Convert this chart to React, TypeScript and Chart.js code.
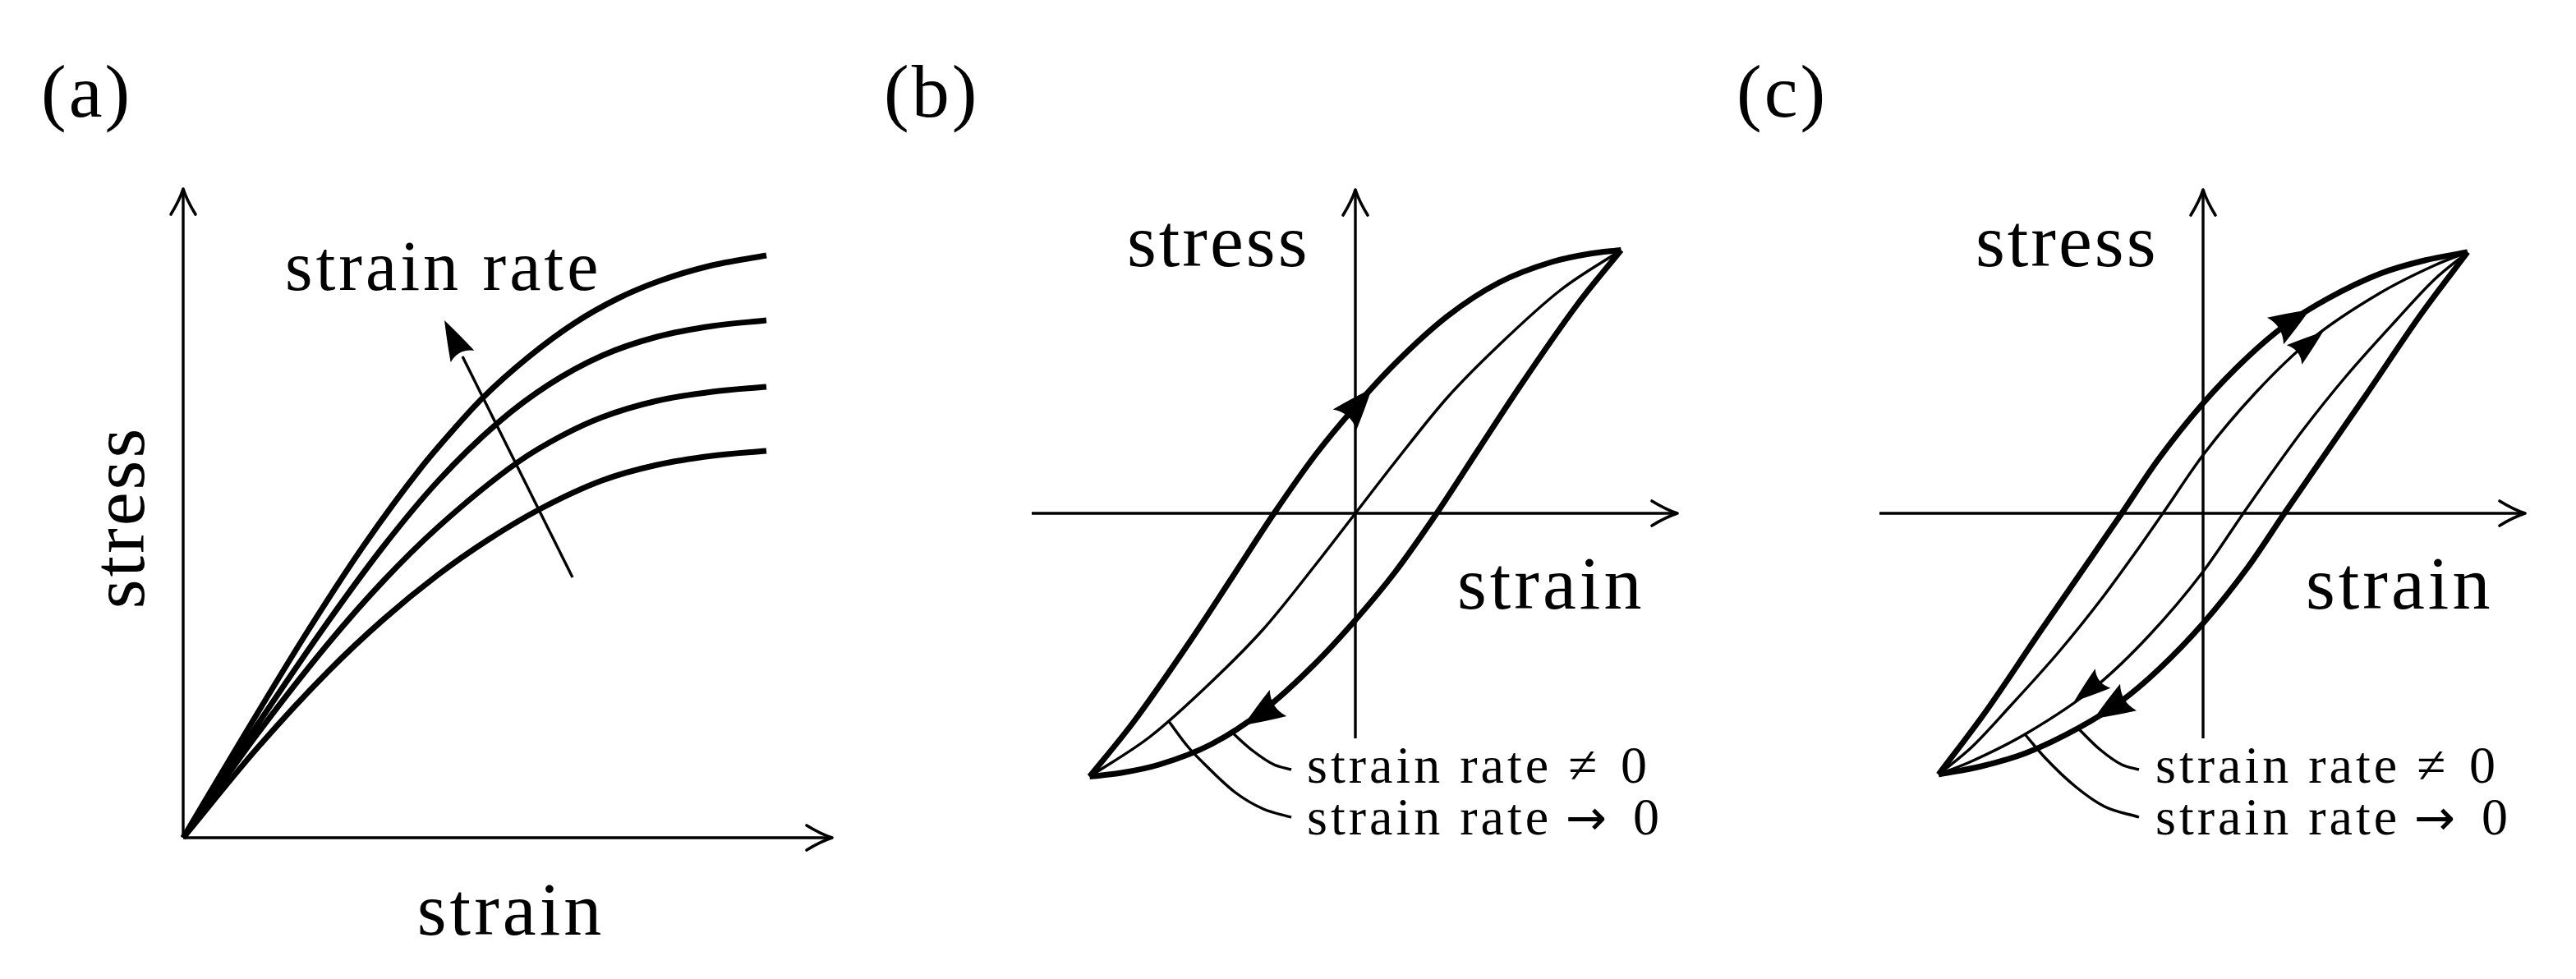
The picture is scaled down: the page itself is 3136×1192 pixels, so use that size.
import React, { useEffect, useRef } from "react";
import { Chart, registerables } from "chart.js";

Chart.register(...registerables);

type P = [number, number];

// ---------- text ----------
const panelLabels = ["(a)", "(b)", "(c)"];
const axisLabels = ["strain", "stress"];
const rateLabel = "strain rate";
const legendWords = ["strain rate", "strain rate"];
const legendSymbols = ["\u2260", "\u2192"];
const legendValues = ["0", "0"];

// ---------- panel (a): stress-strain curves for 4 strain rates ----------
const aAxisX: P[] = [[0, 0], [7.9, 0]];
const aAxisY: P[] = [[0, 0], [0, 7.9]];
const aCurve1: P[] = [[0, 0], [0.75, 1.26], [1.5, 2.49], [2.2, 3.56], [2.9, 4.51], [3.3, 4.98], [3.64, 5.35], [4.2, 5.85], [4.77, 6.27], [5.3, 6.57], [5.8, 6.78], [6.4, 6.96], [7.1, 7.09]];
const aCurve2: P[] = [[0, 0], [0.9, 1.37], [1.77, 2.64], [2.44, 3.55], [3.1, 4.34], [3.84, 5.06], [4.44, 5.51], [5.1, 5.87], [5.77, 6.1], [6.44, 6.23], [7.1, 6.3]];
const aCurve3: P[] = [[0, 0], [0.9, 1.26], [1.77, 2.37], [2.44, 3.13], [3.1, 3.78], [4.07, 4.57], [4.6, 4.89], [5.1, 5.12], [5.77, 5.32], [6.44, 5.43], [7.1, 5.49]];
const aCurve4: P[] = [[0, 0], [0.9, 1.09], [1.77, 2.03], [2.44, 2.66], [3.1, 3.2], [3.7, 3.62], [4.34, 4.0], [5.1, 4.35], [5.77, 4.54], [6.44, 4.65], [7.1, 4.71]];
const aRateShaft: P[] = [[3.4, 5.86], [4.74, 3.17]];
const aRateTip: P = [3.18, 6.3];

// ---------- panel (b): hysteresis loop ----------
const bAxisX: P[] = [[-3.94, 0], [3.92, 0]];
const bAxisY: P[] = [[0, -2.74], [0, 3.94]];
const bOuterUp: P[] = [[-3.235, -3.205], [-2.7, -2.54], [-2.0, -1.54], [-1.5, -0.78], [-0.99, 0], [-0.48, 0.72], [0, 1.3], [0.5, 1.84], [1.12, 2.4], [1.75, 2.81], [2.39, 3.06], [2.85, 3.16], [3.235, 3.205]];
const bOuterDown: P[] = [[-3.235, -3.205], [-2.85, -3.16], [-2.39, -3.06], [-1.75, -2.81], [-1.12, -2.4], [-0.5, -1.84], [0, -1.3], [0.48, -0.72], [0.99, 0], [1.5, 0.78], [2.0, 1.54], [2.7, 2.54], [3.235, 3.205]];
const bInner: P[] = [[-3.235, -3.205], [-2.5, -2.72], [-1.75, -2.05], [-1.12, -1.41], [-0.48, -0.62], [0, 0], [0.48, 0.62], [1.12, 1.41], [1.75, 2.05], [2.5, 2.72], [3.235, 3.205]];
const bLead1: P[] = [[-1.51, -2.66], [-1.25, -2.89], [-0.99, -3.06], [-0.78, -3.12]];
const bLead2: P[] = [[-2.28, -2.52], [-2.04, -2.84], [-1.85, -3.04], [-1.46, -3.4], [-1.12, -3.6], [-0.78, -3.7]];
const bHeadUp: P[] = [[0.2, 1.52], [-0.13, 1.14]];
const bHeadDown: P[] = [[-1.36, -2.58], [-0.94, -2.31]];

// ---------- panel (c): two hysteresis loops ----------
const cAxisX: P[] = [[-3.94, 0], [3.92, 0]];
const cAxisY: P[] = [[0, -2.74], [0, 3.94]];
const cOuterUp: P[] = [[-3.22, -3.18], [-2.65, -2.42], [-1.99, -1.45], [-1.32, -0.48], [-0.99, 0], [-0.55, 0.65], [0, 1.34], [0.54, 1.9], [1.0, 2.29], [1.51, 2.61], [2.16, 2.92], [2.7, 3.08], [3.22, 3.18]];
const cOuterDown: P[] = [[-3.22, -3.18], [-2.7, -3.08], [-2.16, -2.92], [-1.51, -2.61], [-1.0, -2.29], [-0.54, -1.9], [0, -1.34], [0.55, -0.65], [0.99, 0], [1.32, 0.48], [1.99, 1.45], [2.65, 2.42], [3.22, 3.18]];
const cInnerUp: P[] = [[-3.22, -3.18], [-2.82, -2.85], [-2.35, -2.35], [-1.75, -1.68], [-1.22, -1.02], [-0.84, -0.5], [-0.49, 0], [0, 0.71], [0.65, 1.48], [1.32, 2.12], [2.15, 2.68], [2.82, 3.02], [3.22, 3.18]];
const cInnerDown: P[] = [[-3.22, -3.18], [-2.82, -3.02], [-2.15, -2.68], [-1.32, -2.12], [-0.65, -1.48], [0, -0.71], [0.49, 0], [0.84, 0.5], [1.22, 1.02], [1.75, 1.68], [2.35, 2.35], [2.82, 2.85], [3.22, 3.18]];
const cLead1: P[] = [[-1.52, -2.62], [-1.25, -2.88], [-0.99, -3.06], [-0.78, -3.12]];
const cLead2: P[] = [[-2.17, -2.69], [-1.92, -2.98], [-1.55, -3.33], [-1.2, -3.57], [-0.78, -3.7]];
const cHeadOuterUp: P[] = [[1.3, 2.48], [0.88, 2.22]];
const cHeadInnerUp: P[] = [[1.46, 2.21], [1.11, 1.93]];
const cHeadInnerDown: P[] = [[-1.57, -2.29], [-1.22, -2.01]];
const cHeadOuterDown: P[] = [[-1.33, -2.5], [-0.91, -2.24]];

// ---------- layout / style ----------
const PX_PER_UNIT = 100;
const PAGE_H = 1192;
const THICK = 7;
const THIN = 3.4;
const SERIF = '"Liberation Serif", "DejaVu Serif", serif';
const SYMBOL_FONTS = ['"Liberation Serif", serif', '"DejaVu Sans", sans-serif'];
const SYMBOL_SIZES = [64, 60];

function line(pts: P[], width: number, smooth = true) {
  return {
    data: pts.map(([x, y]) => ({ x, y })),
    showLine: true,
    borderColor: "#000",
    backgroundColor: "#000",
    borderWidth: width,
    pointRadius: 0,
    pointHoverRadius: 0,
    tension: 0,
    cubicInterpolationMode: smooth ? "monotone" : "default",
    borderCapStyle: "butt",
    borderJoinStyle: "round",
    fill: false,
  };
}

type TextItem = { text: string; at: P; size: number; ls: number; align: CanvasTextAlign; rot?: boolean; family?: string };
type Head = { pts: P[]; w: number };

// legend rows: words start at x0, symbol and value at fixed offsets (units)
function legendTexts(x0: number, rows: number[]): TextItem[] {
  const out: TextItem[] = [];
  const symOff = [3.18, 3.15];
  const valOff = [3.82, 3.97];
  rows.forEach((y, i) => {
    out.push({ text: legendWords[i], at: [x0, y], size: 64, ls: 4, align: "left" });
    out.push({ text: legendSymbols[i], at: [x0 + symOff[i], y], size: SYMBOL_SIZES[i], ls: 0, align: "left", family: SYMBOL_FONTS[i] });
    out.push({ text: legendValues[i], at: [x0 + valOff[i], y], size: 64, ls: 0, align: "left" });
  });
  return out;
}

const decorPlugin = {
  id: "decor",
  afterDatasetsDraw(chart: any, _a: any, opts: any) {
    const ctx: CanvasRenderingContext2D = chart.ctx;
    const xs = chart.scales.x;
    const ys = chart.scales.y;
    const px = (p: P) => [xs.getPixelForValue(p[0]), ys.getPixelForValue(p[1])];
    ctx.save();
    ctx.fillStyle = "#000";
    ctx.strokeStyle = "#000";
    // open axis arrow tips (LaTeX "to" style)
    for (const ax of (opts.axisTips || []) as P[][]) {
      const [fx, fy] = px(ax[0]);
      const [tx, ty] = px(ax[1]);
      let dx = tx - fx, dy = ty - fy;
      const l = Math.hypot(dx, dy);
      dx /= l; dy /= l;
      const nx = -dy, ny = dx;
      const L = 31, W = 15;
      ctx.beginPath();
      for (const s of [1, -1]) {
        ctx.moveTo(tx - L * dx + s * W * nx, ty - L * dy + s * W * ny);
        ctx.quadraticCurveTo(tx - 0.45 * L * dx + s * 0.3 * W * nx, ty - 0.45 * L * dy + s * 0.3 * W * ny, tx, ty);
      }
      ctx.lineWidth = 3.6;
      ctx.lineCap = "round";
      ctx.stroke();
    }
    // filled arrow heads (LaTeX "latex" style)
    for (const h of (opts.heads || []) as Head[]) {
      const [tx, ty] = px(h.pts[0]);
      const [bx, by] = px(h.pts[1]);
      let dx = tx - bx, dy = ty - by;
      const L = Math.hypot(dx, dy);
      dx /= L; dy /= L;
      const nx = -dy, ny = dx;
      const W = h.w;
      const lx = bx + W * nx, ly = by + W * ny;
      const rx = bx - W * nx, ry = by - W * ny;
      ctx.beginPath();
      ctx.moveTo(tx, ty);
      ctx.quadraticCurveTo(tx - 0.55 * L * dx + 0.6 * W * nx, ty - 0.55 * L * dy + 0.6 * W * ny, lx, ly);
      ctx.quadraticCurveTo(bx + 0.22 * L * dx, by + 0.22 * L * dy, rx, ry);
      ctx.quadraticCurveTo(tx - 0.55 * L * dx - 0.6 * W * nx, ty - 0.55 * L * dy - 0.6 * W * ny, tx, ty);
      ctx.closePath();
      ctx.fill();
    }
    // text
    for (const t of (opts.texts || []) as TextItem[]) {
      const [x, y] = px(t.at);
      ctx.save();
      ctx.translate(x, y);
      if (t.rot) ctx.rotate(-Math.PI / 2);
      ctx.font = `${t.size}px ${t.family || SERIF}`;
      (ctx as any).letterSpacing = `${t.ls}px`;
      ctx.textAlign = t.align;
      ctx.textBaseline = "alphabetic";
      ctx.fillText(t.text, 0, 0);
      ctx.restore();
    }
    ctx.restore();
  },
};

type PanelCfg = {
  left: number;
  width: number;
  xMin: number;
  yMax: number;
  datasets: any[];
  decor: { axisTips: P[][]; heads: Head[]; texts: TextItem[] };
};

const PANELS: PanelCfg[] = [
  {
    left: 0,
    width: 1045,
    xMin: -2.23,
    yMax: 10.2,
    datasets: [
      line(aAxisX, THIN, false),
      line(aAxisY, THIN, false),
      line(aCurve1, THICK),
      line(aCurve2, THICK),
      line(aCurve3, THICK),
      line(aCurve4, THICK),
      line(aRateShaft, THIN, false),
    ],
    decor: {
      axisTips: [aAxisX, aAxisY],
      heads: [{ pts: [aRateTip, aRateShaft[0]], w: 16 }],
      texts: [
        { text: panelLabels[0], at: [-1.73, 8.78], size: 92, ls: 3, align: "left" },
        { text: rateLabel, at: [1.24, 6.67], size: 86, ls: 4, align: "left" },
        { text: axisLabels[1], at: [-0.48, 3.9], size: 92, ls: 3, align: "center", rot: true },
        { text: axisLabels[0], at: [3.99, -1.18], size: 92, ls: 4, align: "center" },
      ],
    },
  },
  {
    left: 1045,
    width: 1032,
    xMin: -6.05,
    yMax: 6.25,
    datasets: [
      line(bAxisX, THIN, false),
      line(bAxisY, THIN, false),
      line(bOuterUp, THICK),
      line(bOuterDown, THICK),
      line(bInner, THIN),
      line(bLead1, THIN),
      line(bLead2, THIN),
    ],
    decor: {
      axisTips: [bAxisX, bAxisY],
      heads: [
        { pts: bHeadUp, w: 19 },
        { pts: bHeadDown, w: 19 },
      ],
      texts: [
        { text: panelLabels[1], at: [-5.74, 4.83], size: 92, ls: 3, align: "left" },
        { text: axisLabels[1], at: [-2.78, 3.01], size: 92, ls: 3, align: "left" },
        { text: axisLabels[0], at: [1.24, -1.16], size: 92, ls: 4, align: "left" },
        ...legendTexts(-0.59, [-3.28, -3.91]),
      ],
    },
  },
  {
    left: 2077,
    width: 1059,
    xMin: -6.05,
    yMax: 6.25,
    datasets: [
      line(cAxisX, THIN, false),
      line(cAxisY, THIN, false),
      line(cOuterUp, THICK),
      line(cOuterDown, THICK),
      line(cInnerUp, THIN),
      line(cInnerDown, THIN),
      line(cLead1, THIN),
      line(cLead2, THIN),
    ],
    decor: {
      axisTips: [cAxisX, cAxisY],
      heads: [
        { pts: cHeadOuterUp, w: 19 },
        { pts: cHeadInnerUp, w: 15 },
        { pts: cHeadInnerDown, w: 15 },
        { pts: cHeadOuterDown, w: 19 },
      ],
      texts: [
        { text: panelLabels[2], at: [-5.68, 4.83], size: 92, ls: 3, align: "left" },
        { text: axisLabels[1], at: [-2.77, 3.01], size: 92, ls: 3, align: "left" },
        { text: axisLabels[0], at: [1.25, -1.16], size: 92, ls: 4, align: "left" },
        ...legendTexts(-0.58, [-3.28, -3.91]),
      ],
    },
  },
];

function Panel({ cfg }: { cfg: PanelCfg }) {
  const ref = useRef<HTMLCanvasElement>(null);
  useEffect(() => {
    const canvas = ref.current;
    if (!canvas) return;
    const chart = new Chart(canvas, {
      type: "scatter",
      data: { datasets: cfg.datasets as any },
      options: {
        animation: false,
        responsive: false,
        devicePixelRatio: 1,
        events: [],
        layout: { padding: 0 },
        plugins: {
          legend: { display: false },
          tooltip: { enabled: false },
          decor: cfg.decor,
        } as any,
        scales: {
          x: { type: "linear", display: false, bounds: "data", min: cfg.xMin, max: cfg.xMin + cfg.width / PX_PER_UNIT },
          y: { type: "linear", display: false, bounds: "data", min: cfg.yMax - PAGE_H / PX_PER_UNIT, max: cfg.yMax },
        },
      },
      plugins: [decorPlugin as any],
    });
    return () => chart.destroy();
  }, [cfg]);
  return (
    <canvas
      ref={ref}
      width={cfg.width}
      height={PAGE_H}
      style={{ position: "absolute", left: cfg.left, top: 0, width: cfg.width, height: PAGE_H, display: "block" }}
    />
  );
}

export default function App() {
  return (
    <div style={{ position: "absolute", left: 0, top: 0, width: 3136, height: PAGE_H, background: "#fff", overflow: "hidden" }}>
      {PANELS.map((p, i) => (
        <Panel key={i} cfg={p} />
      ))}
    </div>
  );
}
